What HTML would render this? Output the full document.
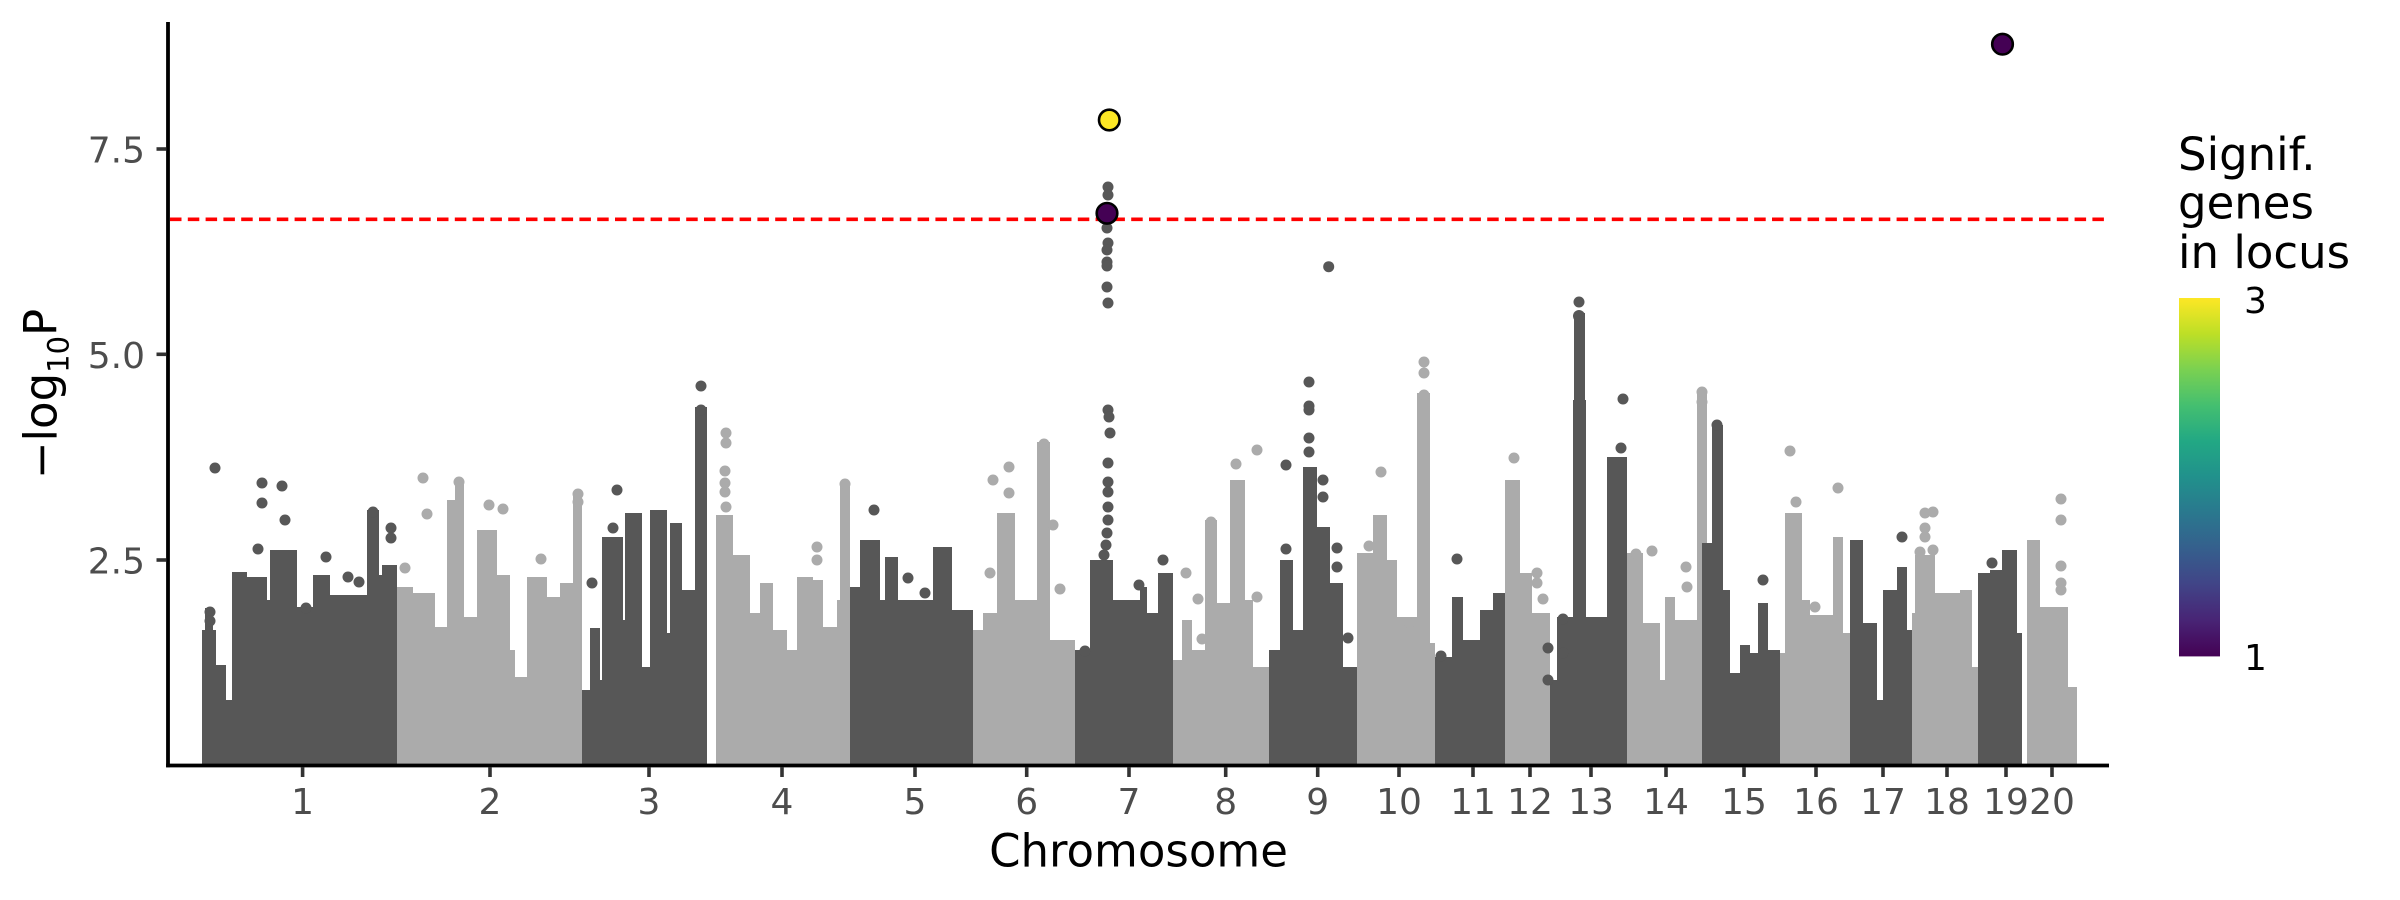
<!DOCTYPE html>
<html><head><meta charset="utf-8"><style>
html,body{margin:0;padding:0;background:#fff;}
svg{display:block;}
text{font-family:"DejaVu Sans","Liberation Sans",sans-serif;}
</style></head><body>
<svg width="2400" height="900" viewBox="0 0 2400 900" xmlns="http://www.w3.org/2000/svg">
<defs>
<linearGradient id="vir" x1="0" y1="1" x2="0" y2="0">
<stop offset="0" stop-color="#440154"/><stop offset="0.1" stop-color="#482475"/><stop offset="0.2" stop-color="#414487"/><stop offset="0.3" stop-color="#355F8D"/><stop offset="0.4" stop-color="#2A788E"/><stop offset="0.5" stop-color="#21918C"/><stop offset="0.6" stop-color="#22A884"/><stop offset="0.7" stop-color="#44BF70"/><stop offset="0.8" stop-color="#7AD151"/><stop offset="0.9" stop-color="#BDDF26"/><stop offset="1" stop-color="#FDE725"/>
</linearGradient>
</defs>
<rect width="2400" height="900" fill="#fff"/>

<!-- light chromosomes -->
<path fill="#ABABAB" d="
M397 587H413V766H397Z M413 593H435V766H413Z M435 627H447V766H435Z M447 500H455V766H447Z M455 482H464V766H455Z M464 617H477V766H464Z M477 530H497V766H477Z M497 575H510V766H497Z M510 650H515V766H510Z M515 677H527V766H515Z M527 577H547V766H527Z M547 597H560V766H547Z M560 583H573V766H560Z M573 493H582V766H573Z
M716 515H733V766H716Z M733 555H750V766H733Z M750 613H760V766H750Z M760 583H773V766H760Z M773 630H787V766H773Z M787 650H797V766H787Z M797 577H813V766H797Z M813 580H823V766H813Z M823 627H837V766H823Z M837 600H840V766H837Z M840 482H850V766H840Z
M973 630H983V766H973Z M983 613H997V766H983Z M997 513H1015V766H997Z M1015 600H1037V766H1015Z M1037 442H1050V766H1037Z M1050 640H1075V766H1050Z
M1173 660H1182V766H1173Z M1182 620H1192V766H1182Z M1192 650H1205V766H1192Z M1205 520H1217V766H1205Z M1217 603H1230V766H1217Z M1230 480H1245V766H1230Z M1245 600H1253V766H1245Z M1253 667H1269V766H1253Z
M1357 553H1373V766H1357Z M1373 515H1387V766H1373Z M1387 560H1397V766H1387Z M1397 617H1417V766H1397Z M1417 393H1430V766H1417Z M1430 643H1435V766H1430Z
M1505 480H1520V766H1505Z M1520 573H1532V766H1520Z M1532 613H1550V766H1532Z
M1627 553H1643V766H1627Z M1643 623H1660V766H1643Z M1660 680H1665V766H1660Z M1665 597H1675V766H1665Z M1675 620H1697V766H1675Z M1697 393H1707V766H1697Z
M1780 653H1785V766H1780Z M1785 513H1802V766H1785Z M1802 600H1810V766H1802Z M1810 615H1833V766H1810Z M1833 537H1843V766H1833Z M1843 633H1850V766H1843Z
M1912 613H1915V766H1912Z M1915 555H1935V766H1915Z M1935 593H1960V766H1935Z M1960 590H1972V766H1960Z M1972 667H1978V766H1972Z
M2027 540H2040V766H2027Z M2040 607H2055V766H2040Z M2055 607H2068V766H2055Z M2068 687H2077V766H2068Z
"/>
<g fill="#ABABAB">
<circle cx="405" cy="568" r="5.5"/><circle cx="423" cy="478" r="5.5"/><circle cx="427" cy="514" r="5.5"/><circle cx="489" cy="505" r="5.5"/><circle cx="503" cy="509" r="5.5"/><circle cx="541" cy="559" r="5.5"/><circle cx="578" cy="494" r="5.5"/><circle cx="578" cy="502" r="5.5"/><circle cx="459" cy="482" r="5.5"/>
<circle cx="726" cy="433" r="5.5"/><circle cx="726" cy="443" r="5.5"/><circle cx="725" cy="471" r="5.5"/><circle cx="725" cy="483" r="5.5"/><circle cx="725" cy="492" r="5.5"/><circle cx="726" cy="507" r="5.5"/><circle cx="817" cy="547" r="5.5"/><circle cx="817" cy="560" r="5.5"/><circle cx="845" cy="484" r="5.5"/>
<circle cx="993" cy="480" r="5.5"/><circle cx="990" cy="573" r="5.5"/><circle cx="1009" cy="467" r="5.5"/><circle cx="1009" cy="493" r="5.5"/><circle cx="1053" cy="525" r="5.5"/><circle cx="1060" cy="589" r="5.5"/><circle cx="1044" cy="444" r="5.5"/>
<circle cx="1186" cy="573" r="5.5"/><circle cx="1198" cy="599" r="5.5"/><circle cx="1202" cy="639" r="5.5"/><circle cx="1236" cy="464" r="5.5"/><circle cx="1257" cy="597" r="5.5"/><circle cx="1257" cy="450" r="5.5"/><circle cx="1211" cy="522" r="5.5"/>
<circle cx="1369" cy="546" r="5.5"/><circle cx="1381" cy="472" r="5.5"/><circle cx="1409" cy="623" r="5.5"/><circle cx="1424" cy="362" r="5.5"/><circle cx="1424" cy="373" r="5.5"/><circle cx="1424" cy="395" r="5.5"/>
<circle cx="1514" cy="458" r="5.5"/><circle cx="1537" cy="573" r="5.5"/><circle cx="1537" cy="583" r="5.5"/><circle cx="1543" cy="599" r="5.5"/>
<circle cx="1636" cy="554" r="5.5"/><circle cx="1652" cy="551" r="5.5"/><circle cx="1686" cy="567" r="5.5"/><circle cx="1687" cy="587" r="5.5"/><circle cx="1702" cy="392" r="5.5"/><circle cx="1702" cy="402" r="5.5"/>
<circle cx="1790" cy="451" r="5.5"/><circle cx="1796" cy="502" r="5.5"/><circle cx="1815" cy="607" r="5.5"/><circle cx="1838" cy="488" r="5.5"/>
<circle cx="1925" cy="513" r="5.5"/><circle cx="1933" cy="512" r="5.5"/><circle cx="1925" cy="528" r="5.5"/><circle cx="1925" cy="537" r="5.5"/><circle cx="1920" cy="552" r="5.5"/><circle cx="1933" cy="550" r="5.5"/>
<circle cx="2061" cy="499" r="5.5"/><circle cx="2061" cy="520" r="5.5"/><circle cx="2061" cy="566" r="5.5"/><circle cx="2061" cy="583" r="5.5"/><circle cx="2061" cy="590" r="5.5"/>
</g>

<!-- dark chromosomes -->
<path fill="#575757" d="
M202 630H216V766H202Z M205 608H213V766H205Z M216 665H226V766H216Z M226 700H232V766H226Z M232 572H247V766H232Z M247 577H267V766H247Z M267 600H270V766H267Z M270 550H297V766H270Z M297 607H313V766H297Z M313 575H330V766H313Z M330 595H367V766H330Z M367 510H379V766H367Z M379 575H382V766H379Z M382 565H397V766H382Z
M582 690H590V766H582Z M590 628H600V766H590Z M600 680H602V766H600Z M602 537H623V766H602Z M623 620H625V766H623Z M625 513H642V766H625Z M642 667H650V766H642Z M650 510H667V766H650Z M667 633H670V766H667Z M670 523H682V766H670Z M682 590H695V766H682Z M695 407H707V766H695Z
M850 587H860V766H850Z M860 540H880V766H860Z M880 600H885V766H880Z M885 557H898V766H885Z M898 600H933V766H898Z M933 547H952V766H933Z M952 610H973V766H952Z
M1075 650H1090V766H1075Z M1090 560H1113V766H1090Z M1113 600H1140V766H1113Z M1140 587H1147V766H1140Z M1147 613H1158V766H1147Z M1158 573H1173V766H1158Z
M1269 650H1280V766H1269Z M1280 560H1293V766H1280Z M1293 630H1303V766H1293Z M1303 467H1317V766H1303Z M1317 527H1330V766H1317Z M1330 583H1343V766H1330Z M1343 667H1357V766H1343Z
M1435 657H1452V766H1435Z M1452 597H1463V766H1452Z M1463 640H1480V766H1463Z M1480 610H1493V766H1480Z M1493 593H1505V766H1493Z
M1550 680H1557V766H1550Z M1557 617H1573V766H1557Z M1574 313H1585V766H1574Z M1573 400H1586V766H1573Z M1585 617H1607V766H1585Z M1607 457H1627V766H1607Z
M1702 543H1712V766H1702Z M1712 425H1723V766H1712Z M1723 590H1730V766H1723Z M1730 673H1740V766H1730Z M1740 645H1750V766H1740Z M1750 653H1758V766H1750Z M1758 603H1768V766H1758Z M1768 650H1780V766H1768Z
M1850 540H1863V766H1850Z M1863 623H1877V766H1863Z M1877 700H1883V766H1877Z M1883 590H1897V766H1883Z M1897 567H1907V766H1897Z M1907 630H1912V766H1907Z
M1978 573H1990V766H1978Z M1990 570H2002V766H1990Z M2002 550H2017V766H2002Z M2017 633H2022V766H2017Z
"/>
<g fill="#575757">
<circle cx="215" cy="468" r="5.5"/><circle cx="262" cy="483" r="5.5"/><circle cx="262" cy="503" r="5.5"/><circle cx="258" cy="549" r="5.5"/><circle cx="282" cy="486" r="5.5"/><circle cx="285" cy="520" r="5.5"/><circle cx="306" cy="608" r="5.5"/><circle cx="326" cy="557" r="5.5"/><circle cx="348" cy="577" r="5.5"/><circle cx="359" cy="582" r="5.5"/><circle cx="391" cy="528" r="5.5"/><circle cx="391" cy="538" r="5.5"/><circle cx="210" cy="612" r="5.5"/><circle cx="210" cy="621" r="5.5"/><circle cx="373" cy="512" r="5.5"/>
<circle cx="592" cy="583" r="5.5"/><circle cx="617" cy="490" r="5.5"/><circle cx="613" cy="528" r="5.5"/><circle cx="701" cy="386" r="5.5"/><circle cx="701" cy="410" r="5.5"/>
<circle cx="874" cy="510" r="5.5"/><circle cx="908" cy="578" r="5.5"/><circle cx="925" cy="593" r="5.5"/>
<circle cx="1085" cy="651" r="5.5"/><circle cx="1139" cy="585" r="5.5"/><circle cx="1163" cy="560" r="5.5"/>
<circle cx="1108" cy="410" r="5.5"/><circle cx="1109" cy="417" r="5.5"/><circle cx="1110" cy="433" r="5.5"/><circle cx="1108" cy="463" r="5.5"/><circle cx="1108" cy="482" r="5.5"/><circle cx="1108" cy="492" r="5.5"/><circle cx="1108" cy="507" r="5.5"/><circle cx="1108" cy="520" r="5.5"/><circle cx="1107" cy="533" r="5.5"/><circle cx="1106" cy="545" r="5.5"/><circle cx="1104" cy="555" r="5.5"/>
<circle cx="1108" cy="187" r="5.5"/><circle cx="1108" cy="195" r="5.5"/><circle cx="1107" cy="228" r="5.5"/><circle cx="1108" cy="243" r="5.5"/><circle cx="1107" cy="250" r="5.5"/><circle cx="1107" cy="262" r="5.5"/><circle cx="1107" cy="266" r="5.5"/><circle cx="1107" cy="287" r="5.5"/><circle cx="1108" cy="303" r="5.5"/>
<circle cx="1286" cy="549" r="5.5"/><circle cx="1286" cy="465" r="5.5"/><circle cx="1309" cy="382" r="5.5"/><circle cx="1309" cy="406" r="5.5"/><circle cx="1309" cy="410" r="5.5"/><circle cx="1309" cy="438" r="5.5"/><circle cx="1309" cy="452" r="5.5"/><circle cx="1323" cy="480" r="5.5"/><circle cx="1323" cy="497" r="5.5"/><circle cx="1337" cy="548" r="5.5"/><circle cx="1337" cy="567" r="5.5"/><circle cx="1348" cy="638" r="5.5"/><circle cx="1328.7" cy="266.7" r="5.5"/>
<circle cx="1441" cy="656" r="5.5"/><circle cx="1457" cy="559" r="5.5"/>
<circle cx="1548" cy="648" r="5.5"/><circle cx="1548" cy="680" r="5.5"/><circle cx="1563" cy="619" r="5.5"/><circle cx="1563" cy="653" r="5.5"/><circle cx="1579" cy="302" r="5.5"/><circle cx="1579" cy="316" r="6"/><circle cx="1623" cy="399" r="5.5"/><circle cx="1621" cy="448" r="5.5"/>
<circle cx="1717" cy="425" r="5.5"/><circle cx="1763" cy="580" r="5.5"/>
<circle cx="1902" cy="537" r="5.5"/>
<circle cx="1992" cy="563" r="5.5"/>
</g>

<!-- significance line -->
<line x1="170" y1="219.3" x2="2109" y2="219.3" stroke="#FF0000" stroke-width="3.6" stroke-dasharray="11.5 6.3"/>

<!-- highlighted points -->
<circle cx="1109.3" cy="120" r="10.3" fill="#FDE725" stroke="#000" stroke-width="2.6"/>
<circle cx="1107" cy="213.3" r="10.3" fill="#440154" stroke="#000" stroke-width="2.6"/>
<circle cx="2002.5" cy="44.2" r="10.3" fill="#440154" stroke="#000" stroke-width="2.6"/>

<!-- axes -->
<line x1="168" y1="22" x2="168" y2="767.3" stroke="#000" stroke-width="3.8"/>
<line x1="166.1" y1="765.5" x2="2109" y2="765.5" stroke="#000" stroke-width="3.8"/>
<g stroke="#333333" stroke-width="3.6">
<line x1="156.5" y1="149" x2="166" y2="149"/>
<line x1="156.5" y1="354.3" x2="166" y2="354.3"/>
<line x1="156.5" y1="560" x2="166" y2="560"/>
<line x1="302.6" y1="767" x2="302.6" y2="777"/>
<line x1="490" y1="767" x2="490" y2="777"/>
<line x1="649" y1="767" x2="649" y2="777"/>
<line x1="782" y1="767" x2="782" y2="777"/>
<line x1="915" y1="767" x2="915" y2="777"/>
<line x1="1026.7" y1="767" x2="1026.7" y2="777"/>
<line x1="1129" y1="767" x2="1129" y2="777"/>
<line x1="1225.7" y1="767" x2="1225.7" y2="777"/>
<line x1="1317.7" y1="767" x2="1317.7" y2="777"/>
<line x1="1399" y1="767" x2="1399" y2="777"/>
<line x1="1473" y1="767" x2="1473" y2="777"/>
<line x1="1530" y1="767" x2="1530" y2="777"/>
<line x1="1591" y1="767" x2="1591" y2="777"/>
<line x1="1666" y1="767" x2="1666" y2="777"/>
<line x1="1744" y1="767" x2="1744" y2="777"/>
<line x1="1816" y1="767" x2="1816" y2="777"/>
<line x1="1883" y1="767" x2="1883" y2="777"/>
<line x1="1947" y1="767" x2="1947" y2="777"/>
<line x1="2006" y1="767" x2="2006" y2="777"/>
<line x1="2052" y1="767" x2="2052" y2="777"/>
</g>

<g font-size="36" fill="#4D4D4D" text-anchor="end">
<text x="145" y="162.5">7.5</text>
<text x="145" y="367.8">5.0</text>
<text x="145" y="573.5">2.5</text>
</g>
<g font-size="36" fill="#4D4D4D" text-anchor="middle">
<text x="302.6" y="814">1</text>
<text x="490" y="814">2</text>
<text x="649" y="814">3</text>
<text x="782" y="814">4</text>
<text x="915" y="814">5</text>
<text x="1026.7" y="814">6</text>
<text x="1129" y="814">7</text>
<text x="1225.7" y="814">8</text>
<text x="1317.7" y="814">9</text>
<text x="1399" y="814">10</text>
<text x="1473" y="814">11</text>
<text x="1530" y="814">12</text>
<text x="1591" y="814">13</text>
<text x="1666" y="814">14</text>
<text x="1744" y="814">15</text>
<text x="1816" y="814">16</text>
<text x="1883" y="814">17</text>
<text x="1947" y="814">18</text>
<text x="2006" y="814">19</text>
<text x="2052" y="814">20</text>
</g>

<text x="1138.5" y="866.7" font-size="45" fill="#000" text-anchor="middle">Chromosome</text>
<text transform="translate(56.7,394) rotate(-90)" font-size="45" fill="#000" text-anchor="middle">−log<tspan font-size="29" dy="11.6">10</tspan><tspan dy="-11.6">P</tspan></text>

<!-- legend -->
<g font-size="45" fill="#000">
<text x="2178" y="170">Signif.</text>
<text x="2178" y="218.5">genes</text>
<text x="2178" y="268">in locus</text>
</g>
<rect x="2179" y="298" width="41" height="358.4" fill="url(#vir)"/>
<g font-size="36" fill="#000">
<text x="2244" y="313">3</text>
<text x="2244" y="670">1</text>
</g>
</svg>
</body></html>
